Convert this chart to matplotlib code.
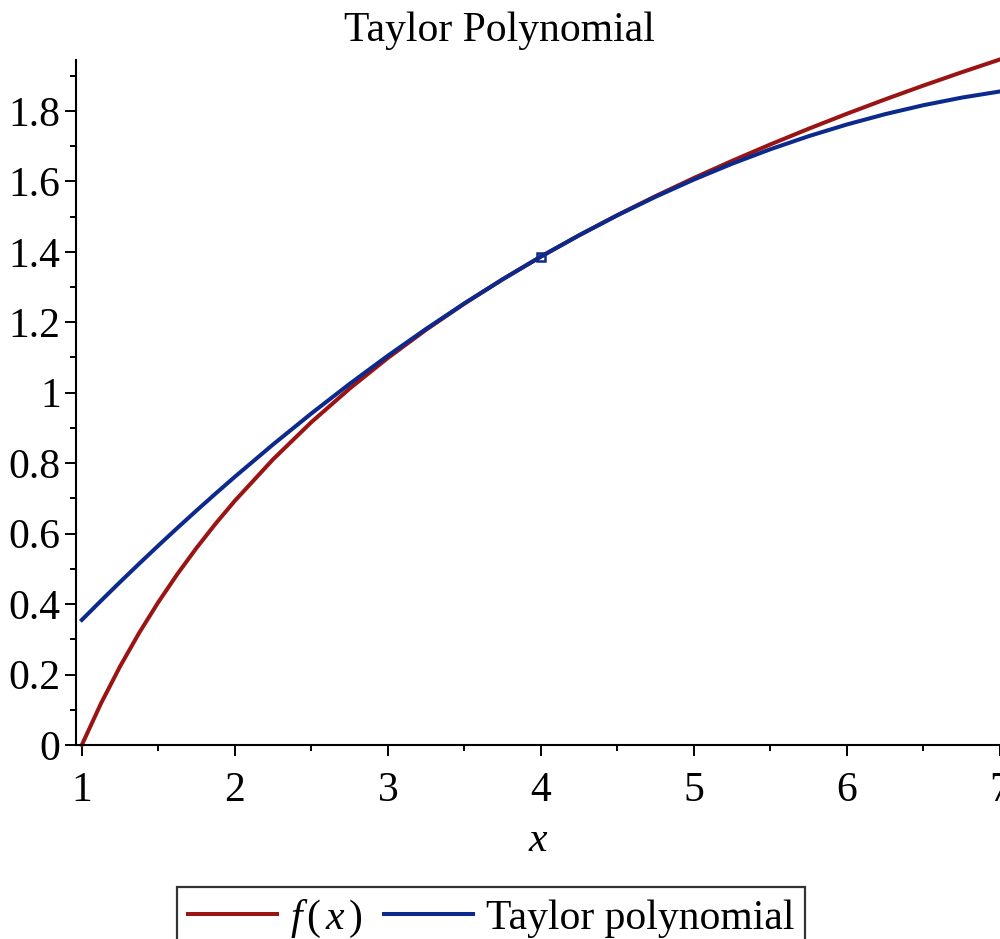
import matplotlib
matplotlib.use("Agg")
import matplotlib.pyplot as plt
from matplotlib.ticker import MultipleLocator

plt.rcParams.update({
    "font.family": ["Liberation Serif", "DejaVu Serif"],
    "mathtext.fontset": "custom",
    "mathtext.rm": "Liberation Serif",
    "mathtext.it": "Liberation Serif:italic",
    "font.size": 30,
})

x_vals = [1.0, 1.125, 1.25, 1.375, 1.5, 1.625, 1.75, 1.875, 2.0, 2.25, 2.5, 2.75,
          3.0, 3.25, 3.5, 3.75, 4.0, 4.25, 4.5, 4.75, 5.0, 5.25, 5.5, 5.75,
          6.0, 6.25, 6.5, 6.75, 7.0]
f_vals = [0.0, 0.1178, 0.2231, 0.3185, 0.4055, 0.4855, 0.5596, 0.6286, 0.6931,
          0.8109, 0.9163, 1.0116, 1.0986, 1.1787, 1.2528, 1.3218, 1.3863, 1.4469,
          1.5041, 1.5581, 1.6094, 1.6582, 1.7047, 1.7492, 1.7918, 1.8326, 1.8718,
          1.9095, 1.9459]
taylor_vals = [0.355, 0.4092, 0.4625, 0.5147, 0.566, 0.6163, 0.6656, 0.7139, 0.7613,
               0.8531, 0.941, 1.025, 1.105, 1.1812, 1.2535, 1.3218, 1.3863, 1.4468,
               1.5035, 1.5562, 1.605, 1.65, 1.691, 1.7281, 1.7613, 1.7906, 1.816,
               1.8375, 1.855]
center_x, center_y = 4.0, 1.3863

red = "#9a1414"
blue = "#0c2a8c"

fig = plt.figure(figsize=(10, 9.39), dpi=100)
ax = fig.add_axes([0.076, 0.2066, 0.924, 0.7294])

ax.plot(x_vals, f_vals, color=red, lw=2.9, label=r"$f\,(\,x\,)$", clip_on=False)
ax.plot(x_vals, taylor_vals, color=blue, lw=2.9, label="Taylor polynomial", clip_on=False)
ax.plot([center_x], [center_y], marker="s", ms=6, mfc="none", mec=blue, mew=1.8, ls="none")

ax.set_xlim(0.962, 7.0)
ax.set_ylim(0, 1.944)

for s in ["top", "right"]:
    ax.spines[s].set_visible(False)
for s in ["left", "bottom"]:
    ax.spines[s].set_linewidth(1.5)

ax.xaxis.set_major_locator(MultipleLocator(1))
ax.xaxis.set_minor_locator(MultipleLocator(0.5))
ax.yaxis.set_major_locator(MultipleLocator(0.2))
ax.yaxis.set_minor_locator(MultipleLocator(0.1))
ax.set_yticks([0, 0.2, 0.4, 0.6, 0.8, 1.0, 1.2, 1.4, 1.6, 1.8])
ax.set_yticklabels(["0", "0.2", "0.4", "0.6", "0.8", "1", "1.2", "1.4", "1.6", "1.8"])
ax.set_xticks([1, 2, 3, 4, 5, 6, 7])
ax.set_xticklabels(["1", "2", "3", "4", "5", "6", "7"])

ax.tick_params(which="major", direction="out", length=8, width=1.4, labelsize=30)
ax.tick_params(axis="x", which="major", pad=11)
ax.tick_params(axis="y", which="major", pad=3)
ax.tick_params(which="minor", direction="out", length=4.5, width=1.4)

ax.set_xlabel(r"$x$", fontsize=30, labelpad=8)
ax.set_title("Taylor Polynomial", fontsize=30, pad=14, x=0.458)

leg = fig.legend(loc="upper center", bbox_to_anchor=(0.491, 0.055), ncol=2,
                 fontsize=30, frameon=True, fancybox=False, handlelength=2.15,
                 handletextpad=0.3, columnspacing=0.5, borderpad=0.25,
                 borderaxespad=0)
leg.get_frame().set_edgecolor("black")
leg.get_frame().set_linewidth(1.6)

fig.savefig("out.png", dpi=100)
